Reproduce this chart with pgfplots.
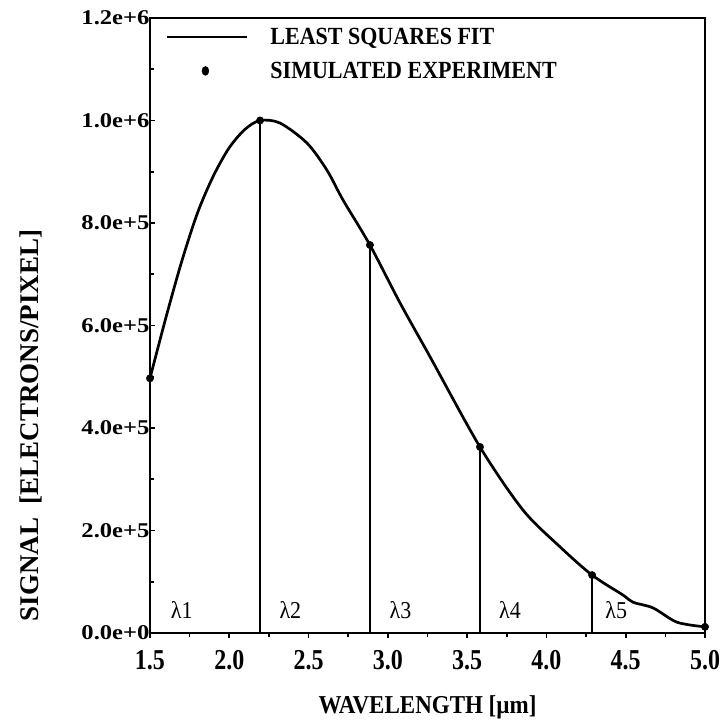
\documentclass[border=0pt]{standalone}
\usepackage{fontspec}
\setmainfont{Liberation Serif}
\usepackage{graphicx}
\usepackage{pgfplots}
\pgfplotsset{compat=1.18}
\newcommand{\tall}[1]{\scalebox{1}[1.12]{#1}}
\begin{document}
\begin{tikzpicture}
\begin{axis}[
  scale only axis,
  width=555pt, height=615pt,
  xmin=1.5, xmax=5.0, ymin=0, ymax=1.2e6,
  axis line style={line width=2.4pt},
  xtick={1.5,2.0,...,5.0},
  minor x tick num=1,
  ytick={0,2e5,4e5,6e5,8e5,1e6,1.2e6},
  yticklabels={0.0e+0,2.0e+5,4.0e+5,6.0e+5,8.0e+5,1.0e+6,1.2e+6},
  minor y tick num=1,
  scaled y ticks=false,
  x tick style={line width=1.6pt, black},
  y tick style={line width=1.6pt, black},
  xtick align=outside,
  ytick align=inside,
  major tick length=5pt, minor tick length=4pt,
  xtick pos=bottom, ytick pos=left,
  /pgf/number format/assume math mode=true,
  xticklabel style={/pgf/number format/fixed, /pgf/number format/fixed zerofill, /pgf/number format/precision=1,
     font=\bfseries\fontsize{24}{24}\selectfont, yscale=1.2, yshift=-7pt},
  yticklabel style={font=\bfseries\fontsize{21}{21}\selectfont, xscale=1.17, xshift=3pt},
  xlabel={\bfseries\fontsize{23}{23}\selectfont \scalebox{1}[1.12]{WAVELENGTH [µm]}},
  ylabel={\bfseries\fontsize{27}{27}\selectfont SIGNAL\ \ [ELECTRONS/PIXEL]},
  xlabel style={yshift=-18pt},
  ylabel style={yshift=32pt, xshift=-100pt},
  legend style={draw=none, fill=none, at={(0.029,0.987)}, anchor=north west,
    font=\bfseries\fontsize{22}{22}\selectfont, row sep=12pt, inner sep=0pt},
  legend cell align=left,
  clip=false,
]
\addplot[black, line width=2.7pt, smooth, tension=0.5,
  legend image code/.code={\draw[black,line width=2.2pt] (0pt,0pt) -- (80pt,0pt);}]
coordinates {
 (1.5,4.97e5) (1.6,6.15e5) (1.7,7.25e5) (1.8,8.2e5) (1.9,8.92e5)
 (2.0,9.47e5) (2.1,9.83e5)
 (2.194,1.0e6) (2.32,9.95e5) (2.49,9.56e5) (2.616,9.03e5) (2.717,8.45e5)
 (2.887,7.57e5) (3.077,6.44e5) (3.266,5.39e5) (3.581,3.63e5) (3.852,2.40e5)
 (4.086,1.68e5) (4.288,1.13e5) (4.483,7.4e4) (4.546,6.0e4) (4.672,4.9e4)
 (4.824,2.1e4) (5.0,1.2e4)
};
\addlegendentry{\hspace{20pt}\tall{LEAST SQUARES FIT}}
\addplot[only marks, black, mark=*, mark size=3.7pt,
  legend image code/.code={\draw[black,fill=black] (38pt,0pt) ellipse[x radius=3.5pt, y radius=4.5pt];}]
coordinates {
 (1.5,4.97e5) (2.194,1.0e6) (2.887,7.57e5) (3.581,3.63e5) (4.288,1.13e5) (5.0,1.2e4)
};
\addlegendentry{\hspace{20pt}\tall{SIMULATED EXPERIMENT}}
\addplot[ycomb, black, line width=2.3pt, forget plot] coordinates {
 (2.194,1.0e6) (2.887,7.57e5) (3.581,3.63e5) (4.288,1.13e5)
};
\node[font=\fontsize{22}{22}\selectfont] at (axis cs:1.70,4.5e4) {\scalebox{1}[1.1]{λ1}};
\node[font=\fontsize{22}{22}\selectfont] at (axis cs:2.385,4.5e4) {\scalebox{1}[1.1]{λ2}};
\node[font=\fontsize{22}{22}\selectfont] at (axis cs:3.08,4.5e4) {\scalebox{1}[1.1]{λ3}};
\node[font=\fontsize{22}{22}\selectfont] at (axis cs:3.77,4.5e4) {\scalebox{1}[1.1]{λ4}};
\node[font=\fontsize{22}{22}\selectfont] at (axis cs:4.44,4.5e4) {\scalebox{1}[1.1]{λ5}};
\path (rel axis cs:0,0) ++(-150pt,-92pt) rectangle ++(717pt,725pt);
\end{axis}
\end{tikzpicture}
\end{document}
